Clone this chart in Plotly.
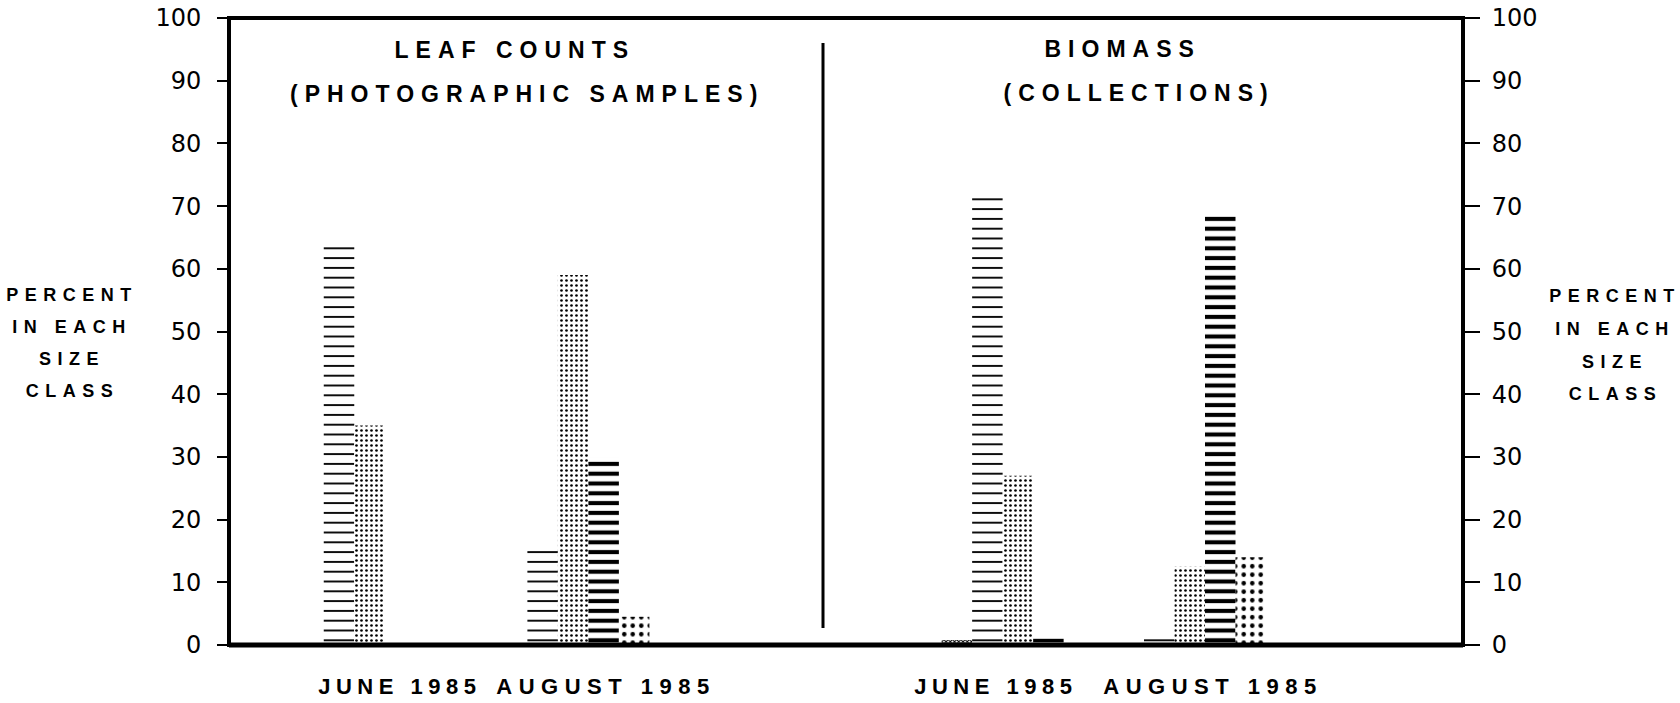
import json
import plotly.graph_objects as go

# ---------------- data ----------------
months = ["JUNE 1985", "AUGUST 1985"]
size_classes = ["Size class 1", "Size class 2", "Size class 3", "Size class 4", "Size class 5"]
leaf_june = [0, 64, 35, 0, 0]
leaf_august = [0, 15, 59, 30, 4.5]
biomass_june = [0.8, 72, 27, 1, 0]
biomass_august = [0, 1, 12.5, 68.5, 14]
y_ticks = list(range(0, 101, 10))
left_title = ["LEAF COUNTS", "(PHOTOGRAPHIC SAMPLES)"]
right_title = ["BIOMASS", "(COLLECTIONS)"]
y_title = ["PERCENT", "IN EACH", "SIZE", "CLASS"]

# ---------------- layout constants ----------------
W, H = 1680, 703
ML, MR, MT, MB = 229, 217, 18, 58
plot_w = W - ML - MR
plot_h = H - MT - MB
div_px = 823
split = (div_px - ML) / plot_w
xr_left = [-0.69, 2.227]
xr_right = [-1.134, 2.59]
slot_px = 30.5

patterns = [
    dict(shape="x", size=3, solidity=0.55),
    dict(shape="-", size=9.8, solidity=0.19),
    dict(shape=".", size=5, solidity=0.22),
    dict(shape="-", size=9.8, solidity=0.42),
    dict(shape=".", size=8.5, solidity=0.22),
]

fig = go.Figure()

panels = [
    ("x", "y", xr_left, split * plot_w, leaf_june, leaf_august),
    ("x2", "y2", xr_right, (1 - split) * plot_w, biomass_june, biomass_august),
]
for xa, ya, xr, pw, june, aug in panels:
    ppu = pw / (xr[1] - xr[0])
    w = slot_px / ppu
    for i, name in enumerate(size_classes):
        fig.add_trace(go.Bar(
            x=months, y=[june[i], aug[i]], name=name,
            width=w, offset=(i - 2.5) * w,
            xaxis=xa, yaxis=ya, showlegend=False,
            marker=dict(color="white", line=dict(width=0),
                        pattern=dict(fgcolor="black", bgcolor="white",
                                     fillmode="replace", **patterns[i])),
        ))

tick_font = dict(family="DejaVu Sans", size=24, color="black")
common_y = dict(range=[0, 100], tickvals=y_ticks, ticks="outside", tickwidth=1.5,
                tickcolor="black", showgrid=False, zeroline=False, showline=False,
                tickfont=tick_font, automargin=False)
common_x = dict(type="category", showticklabels=False, ticks="", showgrid=False,
                zeroline=False, showline=False, automargin=False)

fig.update_layout(
    width=W, height=H,
    margin=dict(l=ML, r=MR, t=MT, b=MB, pad=0, autoexpand=False),
    paper_bgcolor="white", plot_bgcolor="white",
    barmode="overlay",
    xaxis=dict(domain=[0, split], range=xr_left, anchor="y", **common_x),
    xaxis2=dict(domain=[split, 1], range=xr_right, anchor="y2", **common_x),
    yaxis=dict(anchor="x", side="left", ticklen=11, ticklabelstandoff=11, **common_y),
    yaxis2=dict(anchor="x2", side="right", ticklen=16, ticklabelstandoff=7, **common_y),
)

# frame and divider
fig.add_shape(type="rect", xref="paper", yref="paper", x0=0, x1=1, y0=0, y1=1,
              line=dict(color="black", width=4))
fig.add_shape(type="line", xref="paper", yref="paper", x0=0, x1=1, y0=0, y1=0,
              line=dict(color="black", width=5))
fig.add_shape(type="line", xref="paper", yref="y", x0=split, x1=split, y0=2.7, y1=96,
              line=dict(color="black", width=3))

def px_x(px):
    return (px - ML) / plot_w

def px_y(py):
    return (H - MB - py) / plot_h

title_font = dict(family="Liberation Sans", size=23, color="black", weight="bold")
label_font = dict(family="Liberation Sans", size=22, color="black", weight="bold")
ytitle_font = dict(family="Liberation Sans", size=18, color="black", weight="bold")

for txt, cx, cy in [(left_title[0], 515, 50), (left_title[1], 527, 94),
                    (right_title[0], 1122, 49), (right_title[1], 1139, 93)]:
    fig.add_annotation(text=txt, xref="paper", yref="paper", x=px_x(cx), y=px_y(cy),
                       showarrow=False, xanchor="center", yanchor="middle", font=title_font)

# month labels under groups
label_shift = {("x", 0): 30, ("x", 1): 33, ("x2", 0): -22, ("x2", 1): 23}
for xa in ["x", "x2"]:
    for j, m in enumerate(months):
        fig.add_annotation(text=m, xref=xa, yref="paper", x=j, y=px_y(686),
                           xshift=label_shift[(xa, j)], showarrow=False,
                           xanchor="center", yanchor="middle", font=label_font)

# y titles (both sides)
left_rows = [295, 327, 359, 391]
right_rows = [296, 329, 362, 394]
for k, txt in enumerate(y_title):
    fig.add_annotation(text=txt, xref="paper", yref="paper", x=px_x(72), y=px_y(left_rows[k]),
                       showarrow=False, xanchor="center", yanchor="middle", font=ytitle_font)
    fig.add_annotation(text=txt, xref="paper", yref="paper", x=px_x(1615), y=px_y(right_rows[k]),
                       showarrow=False, xanchor="center", yanchor="middle", font=ytitle_font)

spacing = {}
for t in left_title + right_title:
    spacing[t] = 7
spacing[months[0]] = 5.5
spacing[months[1]] = 6.5
for t in y_title:
    spacing[t] = 6.5

post = """
document.body.style.margin = '0';
var sp = %s;
var gd = document.getElementById('{plot_id}');
gd.querySelectorAll('text.annotation-text').forEach(function(t){
  var v = sp[t.textContent];
  if (v !== undefined) { t.style.letterSpacing = v + 'px'; }
});
""" % json.dumps(spacing)

fig.write_html("out.html", post_script=post, config={"displayModeBar": False})
